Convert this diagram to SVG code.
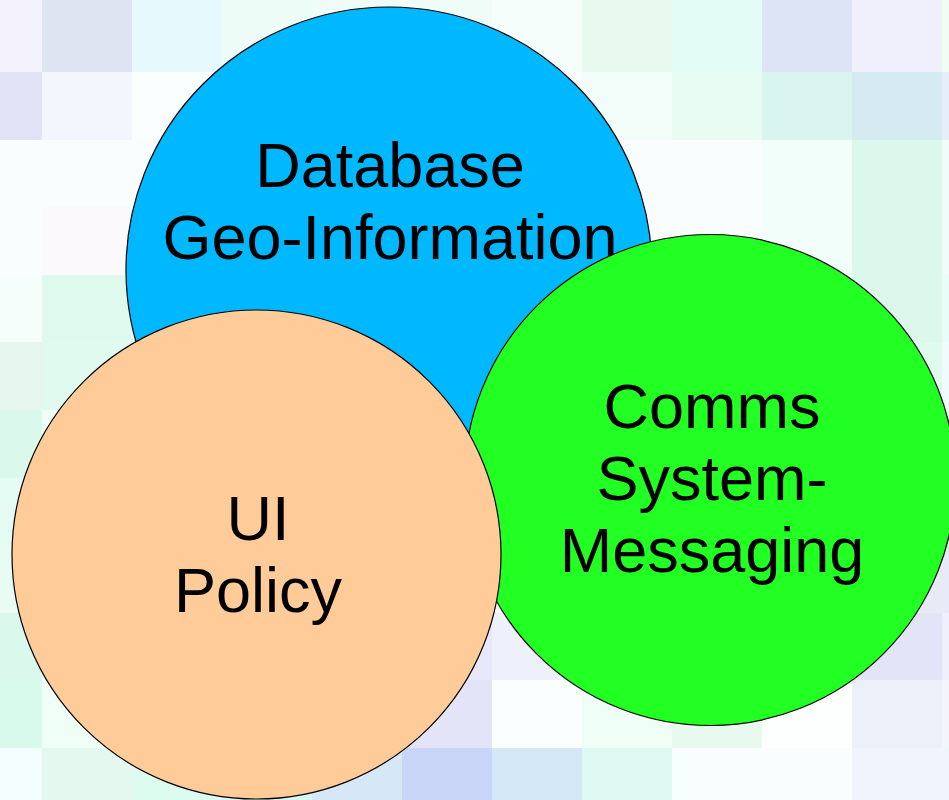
<svg xmlns="http://www.w3.org/2000/svg" width="949" height="800" viewBox="0 0 949 800">
<style>
.node circle{stroke:#000;stroke-width:1.2}
.lbl{font-family:"Liberation Sans",Arial,sans-serif;font-size:63px;fill:#000;text-anchor:middle}
</style>
<g id="background">
<rect x="0" y="0" width="949" height="800" fill="#F9FDFD"/>
<!-- row 0 -->
<rect x="0" y="0" width="42" height="72" fill="#F4F2FC"/>
<rect x="42" y="0" width="90" height="72" fill="#DFE4F3"/>
<rect x="132" y="0" width="90" height="72" fill="#E6F9FC"/>
<rect x="222" y="0" width="90" height="72" fill="#EEFCF8"/>
<rect x="312" y="0" width="180" height="72" fill="#F0FCF8"/>
<rect x="492" y="0" width="90" height="72" fill="#F6FEFC"/>
<rect x="582" y="0" width="90" height="72" fill="#E8FAF0"/>
<rect x="672" y="0" width="90" height="72" fill="#E4FCF6"/>
<rect x="762" y="0" width="90" height="72" fill="#DCE4F6"/>
<rect x="852" y="0" width="90" height="72" fill="#F0F0FC"/>
<rect x="942" y="0" width="7" height="72" fill="#F0FCF4"/>
<!-- row 1 -->
<rect x="0" y="72" width="42" height="68" fill="#E3E3F8"/>
<rect x="42" y="72" width="180" height="68" fill="#F4F6FD"/>
<rect x="132" y="72" width="90" height="68" fill="#FAFEFE"/>
<rect x="582" y="72" width="90" height="68" fill="#F2FCF8"/>
<rect x="672" y="72" width="90" height="68" fill="#E8FCF4"/>
<rect x="762" y="72" width="90" height="68" fill="#DAF4F0"/>
<rect x="852" y="72" width="90" height="68" fill="#D6EAF2"/>
<rect x="942" y="72" width="7" height="68" fill="#E6EEFA"/>
<!-- row 2-3 -->
<rect x="42" y="207" width="90" height="68" fill="#FBF9FC"/>
<rect x="762" y="140" width="90" height="135" fill="#F2FEF9"/>
<rect x="852" y="140" width="90" height="202" fill="#DCF8EC"/>
<rect x="942" y="140" width="7" height="135" fill="#F0FCFA"/>
<!-- row 4 -->
<rect x="0" y="275" width="42" height="67" fill="#F6FEFC"/>
<rect x="42" y="275" width="90" height="67" fill="#DEF9EE"/>
<rect x="132" y="275" width="90" height="67" fill="#E4FCF4"/>
<rect x="942" y="275" width="7" height="67" fill="#E8FCF8"/>
<!-- row 5 -->
<rect x="0" y="342" width="42" height="68" fill="#E6F6EE"/>
<rect x="42" y="342" width="90" height="68" fill="#E0FAF0"/>
<rect x="852" y="342" width="90" height="68" fill="#E0FAF0"/>
<rect x="942" y="342" width="7" height="68" fill="#F0FCFC"/>
<!-- row 6-8 -->
<rect x="0" y="410" width="42" height="68" fill="#DAF9EC"/>
<rect x="42" y="410" width="90" height="68" fill="#F0FEFA"/>
<rect x="0" y="478" width="42" height="67" fill="#E4FCF4"/>
<rect x="0" y="545" width="42" height="68" fill="#E8FCF4"/>
<rect x="852" y="545" width="97" height="68" fill="#E8EAF8"/>
<!-- row 9 -->
<rect x="0" y="613" width="42" height="67" fill="#DAF9EC"/>
<rect x="42" y="613" width="90" height="67" fill="#EEFCF6"/>
<rect x="402" y="613" width="90" height="67" fill="#E8E8FC"/>
<rect x="492" y="613" width="90" height="67" fill="#EEF0FC"/>
<rect x="852" y="613" width="90" height="67" fill="#E4E4F8"/>
<rect x="942" y="613" width="7" height="67" fill="#F0F0FC"/>
<!-- row 10 -->
<rect x="0" y="680" width="42" height="68" fill="#D8FAEC"/>
<rect x="42" y="680" width="90" height="68" fill="#F0FEF8"/>
<rect x="402" y="680" width="90" height="68" fill="#E4E4F9"/>
<rect x="492" y="680" width="90" height="68" fill="#FAFEFE"/>
<rect x="582" y="680" width="90" height="68" fill="#F0FEF8"/>
<rect x="672" y="680" width="90" height="68" fill="#E8FAF0"/>
<rect x="762" y="680" width="90" height="68" fill="#FDFEFE"/>
<rect x="852" y="680" width="90" height="68" fill="#ECF0F8"/>
<rect x="942" y="680" width="7" height="68" fill="#F4F4FC"/>
<!-- row 11 -->
<rect x="0" y="748" width="42" height="52" fill="#F4FEFE"/>
<rect x="42" y="748" width="90" height="52" fill="#E4F8F0"/>
<rect x="132" y="748" width="90" height="52" fill="#DCFCF0"/>
<rect x="222" y="748" width="90" height="52" fill="#DAF6F2"/>
<rect x="312" y="748" width="90" height="52" fill="#D6E8F8"/>
<rect x="402" y="748" width="90" height="52" fill="#C9D6F8"/>
<rect x="492" y="748" width="90" height="52" fill="#D4E8F8"/>
<rect x="582" y="748" width="90" height="52" fill="#DEF9F2"/>
<rect x="672" y="748" width="90" height="52" fill="#F8FEFE"/>
<rect x="852" y="748" width="97" height="52" fill="#F0F4FC"/>
</g>
<g id="connectors"/>
<g id="node-database" class="node">
<circle cx="389" cy="270" r="263" fill="#00B8FF"/>
<text class="lbl" x="390" y="187">Database</text>
<text class="lbl" x="390" y="259">Geo-Information</text>
</g>
<g id="node-comms" class="node">
<circle cx="710" cy="480" r="245.5" fill="#22FF22"/>
<text class="lbl" x="712" y="428">Comms</text>
<text class="lbl" x="712" y="500">System-</text>
<text class="lbl" x="712" y="572">Messaging</text>
</g>
<g id="node-ui" class="node">
<circle cx="256.5" cy="554.5" r="244.5" fill="#FFCC99"/>
<text class="lbl" x="258" y="540">UI</text>
<text class="lbl" x="258" y="612">Policy</text>
</g>
</svg>
